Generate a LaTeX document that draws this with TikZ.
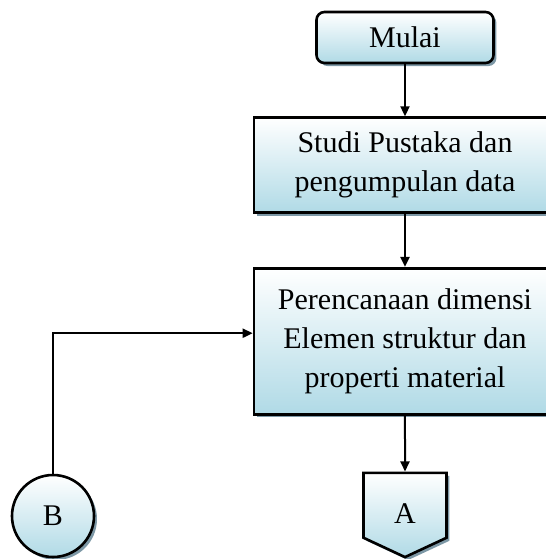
\documentclass[tikz,border=0pt]{standalone}
\usepackage{fontspec}
\setmainfont{Liberation Serif}
\usetikzlibrary{arrows.meta, positioning, shapes.geometric, shapes.symbols, shadows}
\definecolor{boxblue}{RGB}{176,218,230}
\definecolor{shadowblue}{RGB}{125,152,166}

\begin{document}
\begin{tikzpicture}[x=0.5pt, y=-0.5pt, >={Triangle[length=5pt,width=4.5pt]}, line width=1pt,
    box/.style={draw, line width=1.3pt, top color=white, bottom color=boxblue,
      drop shadow={shadow xshift=1.5pt, shadow yshift=-1.5pt, fill=shadowblue, opacity=1},
      font=\fontsize{15}{19.5}\selectfont, align=center, inner sep=0pt}]
    \useasboundingbox (0,0) rectangle (546,559);

    % Alur utama (satu kolom, dari atas ke bawah)
    \node[box, rounded corners=4pt, minimum width=88.5pt, minimum height=25.5pt] (mulai) at (405,37.5) {Mulai};

    \node[box, minimum width=151pt, minimum height=47.5pt, below=26pt of mulai] (studi) {Studi Pustaka dan\\pengumpulan data};

    \node[box, minimum width=151pt, minimum height=73pt, below=26.5pt of studi] (rencana) {Perencanaan dimensi\\Elemen struktur dan\\properti material};

    % Konektor halaman
    \node[box, signal, signal to=south, signal from=nothing, signal pointer angle=130, minimum width=41.5pt, minimum height=35pt, text height=18pt, text depth=0pt, below=28pt of rencana] (a) {A};

    \node[box, circle, minimum size=41pt] (b) at (53,516) {B};

    % Panah
    \draw[->] (mulai) -- (studi);
    \draw[->] (studi) -- (rencana);
    \draw[->] (rencana) -- (a);
    \draw[->] (b) |- ([yshift=4pt]rencana.west);
\end{tikzpicture}
\end{document}
